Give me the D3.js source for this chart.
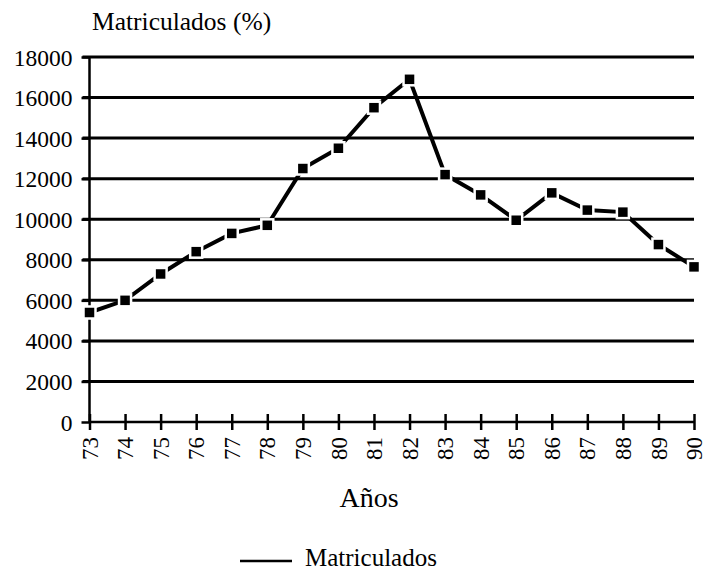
<!DOCTYPE html>
<html>
<head>
<meta charset="utf-8">
<script src="https://cdn.jsdelivr.net/npm/d3@7"></script>
<style>
  body { margin: 0; background: #fff; }
</style>
</head>
<body>
<div id="chart"></div>
<script>
// Years (x categories) and enrolled students
const years = ["73", "74", "75", "76", "77", "78", "79", "80", "81", "82",
               "83", "84", "85", "86", "87", "88", "89", "90"];
const matriculados = [5400, 6000, 7300, 8400, 9300, 9700, 12500, 13500, 15500, 16900,
                      12200, 11200, 9950, 11300, 10450, 10350, 8750, 7650];
const yTicks = [0, 2000, 4000, 6000, 8000, 10000, 12000, 14000, 16000, 18000];

const width = 706, height = 572;
const margin = {top: 57, right: 12, bottom: 150, left: 89.5};
const w = width - margin.left - margin.right;
const h = height - margin.top - margin.bottom;
const serif = "Liberation Serif, serif";

const svg = d3.select("#chart").append("svg")
    .attr("width", width)
    .attr("height", height);

const g = svg.append("g")
    .attr("transform", "translate(" + margin.left + "," + margin.top + ")");

// Scales
const x = d3.scalePoint().domain(years).range([0, w]);
const y = d3.scaleLinear().domain([0, 18000]).range([h, 0]);

// Horizontal grid lines
g.append("g")
    .selectAll("line")
    .data(yTicks.filter(d => d > 0))
    .join("line")
    .attr("x1", -7).attr("x2", w)
    .attr("y1", d => y(d)).attr("y2", d => y(d))
    .attr("stroke", "#000")
    .attr("stroke-width", 3);

// Y axis
const yAxis = g.append("g")
    .call(d3.axisLeft(y).tickValues(yTicks).tickFormat(d3.format("d")).tickSize(8).tickPadding(9))
    .attr("font-family", serif);
yAxis.select(".domain").attr("stroke-width", 2.5).attr("d", "M0," + h + "V0");
yAxis.selectAll(".tick line").attr("stroke-width", 2.5);
yAxis.selectAll("text")
    .attr("font-family", serif)
    .attr("font-size", 23.5)
    .attr("dy", "0.34em");

// X axis
const xAxis = g.append("g")
    .attr("transform", "translate(0," + h + ")")
    .call(d3.axisBottom(x).tickSize(8))
    .attr("font-family", serif);
xAxis.select(".domain").attr("stroke-width", 2.5).attr("d", "M0,0H" + w);
xAxis.selectAll(".tick line")
    .attr("y1", -8).attr("y2", 8)
    .attr("stroke-width", 2.5);
xAxis.selectAll("text")
    .attr("font-family", serif)
    .attr("font-size", 23)
    .attr("text-anchor", "end")
    .attr("x", -15)
    .attr("y", 0)
    .attr("dy", "0.33em")
    .attr("transform", "rotate(-90)");

// Data line
const line = d3.line()
    .x((d, i) => x(years[i]))
    .y(d => y(d));

g.append("path")
    .datum(matriculados)
    .attr("fill", "none")
    .attr("stroke", "#000")
    .attr("stroke-width", 4)
    .attr("d", line);

// Square markers
g.append("g")
    .selectAll("rect")
    .data(matriculados)
    .join("rect")
    .attr("x", (d, i) => x(years[i]) - 6)
    .attr("y", d => y(d) - 6)
    .attr("width", 12)
    .attr("height", 12)
    .attr("fill", "#000")
    .attr("stroke", "#fff")
    .attr("stroke-width", 2.5);

// Titles
svg.append("text")
    .attr("x", 92)
    .attr("y", 30)
    .attr("font-family", serif)
    .attr("font-size", 25.5)
    .text("Matriculados (%)");

svg.append("text")
    .attr("x", 369)
    .attr("y", 507)
    .attr("text-anchor", "middle")
    .attr("font-family", serif)
    .attr("font-size", 28)
    .text("Años");

// Legend
svg.append("line")
    .attr("x1", 240).attr("x2", 292)
    .attr("y1", 561).attr("y2", 561)
    .attr("stroke", "#000")
    .attr("stroke-width", 2.5);

svg.append("text")
    .attr("x", 305)
    .attr("y", 566)
    .attr("font-family", serif)
    .attr("font-size", 25)
    .text("Matriculados");
</script>
</body>
</html>
